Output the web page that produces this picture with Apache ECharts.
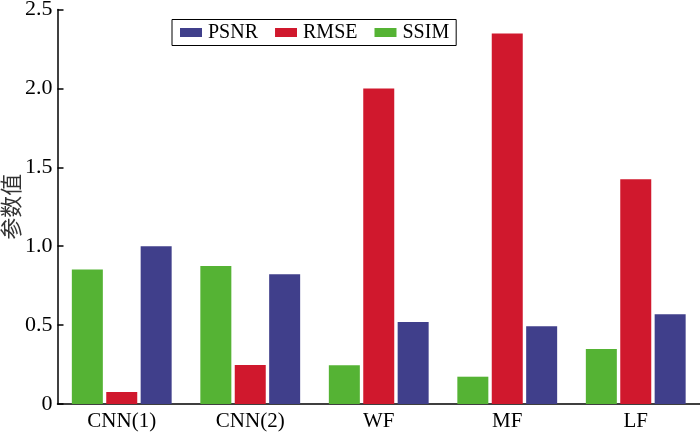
<!DOCTYPE html>
<html>
<head>
<meta charset="utf-8">
<script src="https://cdn.jsdelivr.net/npm/echarts@6/dist/echarts.min.js"></script>
<style>
html,body{margin:0;padding:0;background:#fff;}
#c{width:700px;height:434px;}
</style>
</head>
<body>
<div id="c"></div>
<script>
const categories = ['CNN(1)', 'CNN(2)', 'WF', 'MF', 'LF'];
const ssim = [0.853, 0.874, 0.245, 0.173, 0.348];
const rmse = [0.076, 0.247, 2.0, 2.348, 1.424];
const psnr = [1.0, 0.823, 0.52, 0.492, 0.568];
const yTicks = [0, 0.5, 1.0, 1.5, 2.0, 2.5];

const serif = '"Liberation Serif", "Times New Roman", serif';
const chart = echarts.init(document.getElementById('c'), null, {renderer: 'canvas'});
chart.setOption({
  animation: false,
  backgroundColor: '#fff',
  grid: {left: 57.5, right: 0, top: 9.5, bottom: 30, containLabel: false, outerBoundsMode: 'none'},
  legend: {
    data: ['PSNR', 'RMSE', 'SSIM'],
    left: 172, top: 19.5,
    orient: 'horizontal',
    borderColor: '#000', borderWidth: 1,
    padding: [3, 7, 3, 8],
    itemWidth: 22, itemHeight: 9, itemGap: 17,
    textStyle: {fontFamily: serif, fontSize: 20, color: '#000', padding: [0, 0, 0, 1]},
    icon: 'rect'
  },
  xAxis: {
    type: 'category',
    data: categories,
    axisLine: {lineStyle: {color: '#000', width: 1.5}},
    axisTick: {show: false},
    axisLabel: {fontFamily: serif, fontSize: 21, color: '#000', margin: 7},
    splitLine: {show: false}
  },
  yAxis: {
    type: 'value',
    min: yTicks[0], max: yTicks[yTicks.length - 1], interval: 0.5,
    name: '参数值',
    nameLocation: 'middle',
    nameGap: 36,
    nameRotate: 90,
    nameMoveOverlap: false,
    nameTextStyle: {fontFamily: '"Noto Sans CJK SC", sans-serif', fontSize: 22, color: '#333'},
    axisLine: {show: true, lineStyle: {color: '#000', width: 1.5}},
    axisTick: {show: true, inside: true, length: 6, lineStyle: {color: '#000', width: 1.5}},
    axisLabel: {
      fontFamily: serif, fontSize: 22, color: '#000', margin: 5,
      formatter: v => v === 0 ? '0' : v.toFixed(1)
    },
    splitLine: {show: false}
  },
  series: [
    {name: 'SSIM', type: 'bar', data: ssim, barWidth: 31, barGap: '11%',
     itemStyle: {color: '#55B334'}},
    {name: 'RMSE', type: 'bar', data: rmse, barWidth: 31, barGap: '11%',
     itemStyle: {color: '#D0182D'}},
    {name: 'PSNR', type: 'bar', data: psnr, barWidth: 31, barGap: '11%',
     itemStyle: {color: '#403F8B'}}
  ]
});
</script>
</body>
</html>
